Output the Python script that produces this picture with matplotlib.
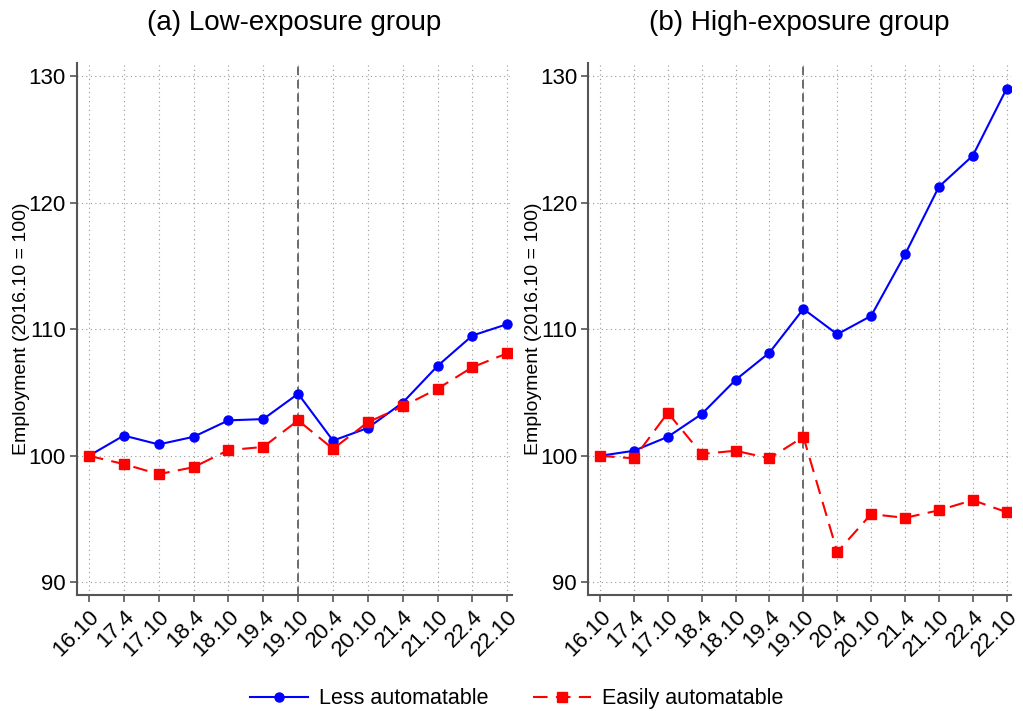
import numpy as np
import matplotlib.pyplot as plt

plt.rcParams['font.family'] = ['Liberation Sans', 'DejaVu Sans']

periods = ['16.10', '17.4', '17.10', '18.4', '18.10', '19.4', '19.10',
           '20.4', '20.10', '21.4', '21.10', '22.4', '22.10']

low_less = [100, 101.6, 100.9, 101.5, 102.8, 102.9, 104.9,
            101.2, 102.2, 104.2, 107.1, 109.5, 110.4]
low_easy = [100, 99.35, 98.55, 99.1, 100.45, 100.7, 102.8,
            100.55, 102.65, 103.9, 105.3, 107.0, 108.1]
high_less = [100, 100.4, 101.5, 103.3, 106.0, 108.15, 111.6,
             109.6, 111.05, 115.9, 121.25, 123.7, 129.0]
high_easy = [100, 99.8, 103.4, 100.15, 100.4, 99.8, 101.5,
             92.4, 95.4, 95.1, 95.7, 96.5, 95.55]

titles = ['(a) Low-exposure group', '(b) High-exposure group']
panels = [(low_less, low_easy), (high_less, high_easy)]

fig = plt.figure(figsize=(10.23, 7.11), dpi=100)
ax1 = fig.add_axes([0.075, 0.163, 0.425, 0.748])
ax2 = fig.add_axes([0.575, 0.163, 0.413, 0.748])

x = np.arange(len(periods))
for ax, title, (less, easy) in zip([ax1, ax2], titles, panels):
    ax.axvline(6, color='#555555', linestyle=(0, (5, 3)), linewidth=1.2, zorder=1)
    l1, = ax.plot(x, less, color='blue', marker='o', markersize=6.5,
                  linewidth=1.5, label='Less automatable', zorder=3)
    l2, = ax.plot(x, easy, color='red', marker='s', markersize=6.5,
                  linewidth=1.5, linestyle=(0, (7, 4)),
                  label='Easily automatable', zorder=3)
    ax.set_title(title, fontsize=20, pad=24)
    ax.set_xlim(-0.35, 12.12)
    ax.set_ylim(89, 131)
    ax.set_yticks([90, 100, 110, 120, 130])
    ax.set_xticks(x)
    ax.set_xticklabels(periods, rotation=45, ha='right', rotation_mode='anchor')
    ax.set_ylabel('Employment (2016.10 = 100)', fontsize=14, labelpad=-1.5)
    ax.grid(True, color='#999999', linestyle=(0, (1, 3)), linewidth=0.8)
    ax.set_axisbelow(True)
    for s in ['top', 'right']:
        ax.spines[s].set_visible(False)
    for s in ['left', 'bottom']:
        ax.spines[s].set_color('#555555')
        ax.spines[s].set_linewidth(1.5)
    ax.tick_params(axis='both', labelsize=16, direction='out', length=5,
                   color='#555555', width=1.2, pad=3)

fig.legend([l1, l2], ['Less automatable', 'Easily automatable'],
           loc='lower center', ncol=2, frameon=False, fontsize=15.5,
           bbox_to_anchor=(0.505, -0.025), handlelength=2.7, handletextpad=0.5,
           columnspacing=2.1)

plt.savefig('out.png', dpi=100)
